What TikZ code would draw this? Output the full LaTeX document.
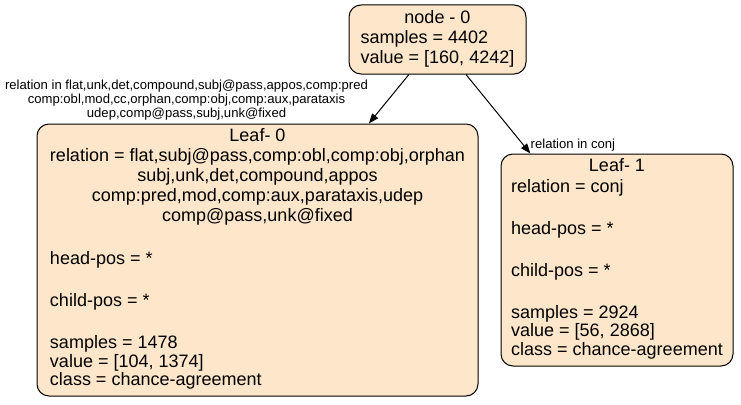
\documentclass[tikz,border=0pt]{standalone}
\usepackage{fontspec}
\setmainfont{Liberation Sans}
\usetikzlibrary{arrows.meta}
\definecolor{nodefill}{RGB}{253,230,202}
\newcommand\mcc[1]{\multicolumn{1}{@{}c@{}}{#1}}
\begin{document}
\begin{tikzpicture}[x=1pt,y=-1pt,
  box/.style={draw=black, line width=1pt, fill=nodefill, rounded corners=12pt, inner sep=0pt,
    font=\fontsize{18}{18.5}\selectfont},
  elabel/.style={inner sep=0pt, align=center, font=\fontsize{13.1}{14}\selectfont},
  edge/.style={draw=black, line width=1pt, -{Triangle[length=10pt,width=7.5pt]}}]
\useasboundingbox[fill=white] (0,0) rectangle (741,404);

\node[box, minimum width=177pt, minimum height=69pt] (n0) at (437.5,39.5)
  {\begin{tabular}{@{}l@{}}\mcc{node - 0}\\[1.5pt] samples = 4402\\[1.5pt] value = [160, 4242]\end{tabular}};

\node[box, minimum width=441pt, minimum height=272pt] (l0) at (257.5,260)
  {\begin{tabular}{@{}l@{}}
   \mcc{Leaf- 0}\\[1.5pt]
   \mcc{relation = flat,subj@pass,comp:obl,comp:obj,orphan}\\[1.5pt]
   \mcc{subj,unk,det,compound,appos}\\[1.5pt]
   \mcc{comp:pred,mod,comp:aux,parataxis,udep}\\[1.5pt]
   \mcc{comp@pass,unk@fixed}\\[1.5pt]
   \\[4pt]
   head-pos = *\\[1pt]
   \\[4pt]
   child-pos = *\\[1pt]
   \\[4pt]
   samples = 1478\\
   value = [104, 1374]\\
   class = chance-agreement
   \end{tabular}};

\node[box, minimum width=232pt, minimum height=212pt] (l1) at (617,260)
  {\begin{tabular}{@{}l@{}}
   \mcc{Leaf- 1}\\[1.5pt]
   relation = conj\\[1pt]
   \\[4pt]
   head-pos = *\\[1pt]
   \\[4pt]
   child-pos = *\\[1pt]
   \\[4pt]
   samples = 2924\\
   value = [56, 2868]\\
   class = chance-agreement
   \end{tabular}};

\node[elabel] (e0) at (186.5,100)
  {relation in flat,unk,det,compound,subj@pass,appos,comp:pred\\
   comp:obl,mod,cc,orphan,comp:obj,comp:aux,parataxis\\
   udep,comp@pass,subj,unk@fixed};
\node[elabel, anchor=west] (e1) at (530.5,145) {relation in conj};

\draw[edge] (n0) -- (l0);
\draw[edge] (n0) -- (l1);
\end{tikzpicture}
\end{document}
